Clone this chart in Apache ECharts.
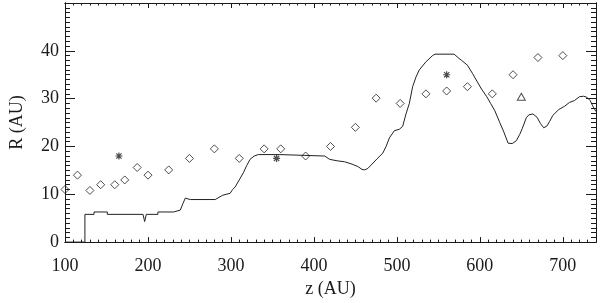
<!DOCTYPE html>
<html>
<head>
<meta charset="utf-8">
<script src="https://cdn.jsdelivr.net/npm/echarts@6/dist/echarts.min.js"></script>
<style>html,body{margin:0;padding:0;background:#fff}#c{width:600px;height:303px}</style>
</head>
<body>
<div id="c"></div>
<script>
// x tick labels / y tick labels
const xTicks = [100, 200, 300, 400, 500, 600, 700];
const yTicks = [0, 10, 20, 30, 40];
// open diamonds (z, R)
const diamonds = [[100,11],[115,14.0],[130,10.8],[143,12.0],[160,12.0],[172,13.0],[187,15.6],[200,14.0],[225,15.1],[250,17.5],[280,19.5],[310,17.5],[340,19.5],[360,19.5],[390,18.0],[420,20.0],[450,24.0],[475,30.1],[504,29.0],[535,31.0],[560,31.6],[585,32.5],[615,31.0],[640,35.0],[670,38.6],[700,39.0]];
// asterisks
const asterisks = [[165,18.0],[355,17.5],[560,35.0]];
// triangle
const triangles = [[650,30.4]];
// profile curve
const profile = [[100,0],[124,0],[124,5.8],[135,5.8],[135,6.3],[151,6.3],[151,5.8],[194,5.8],[196,4.3],[198,5.8],[212,5.8],[212,6.3],[231,6.3],[231,6.7],[239,6.7],[242,8],[245,9.2],[251,8.9],[281,8.9],[283,9.3],[290,9.8],[299,10.2],[302,11],[305,11.5],[310,13],[315,14.5],[319,16],[323,17.3],[328,18],[333,18.3],[359,18.3],[359,18.0],[413,18.0],[419,17.3],[428,17.0],[437,16.8],[446,16.3],[453,15.8],[458,15.2],[461,15.1],[465,15.4],[470,16.3],[476,17.4],[483,18.6],[487,20],[491,21.8],[497,23.3],[503,23.6],[507,24.2],[511,26.8],[515,29],[519,32.5],[523,34.5],[527,36],[535,37.7],[543,39],[546,39.3],[569,39.3],[575,38.4],[578,38],[585,37],[591,35.3],[597,33.5],[602,32],[608,30.5],[613,29],[618,27.5],[624,25],[629,23],[634,20.7],[639,20.6],[644,21.2],[648,22.5],[651,23.7],[656,26],[659,26.6],[664,26.8],[669,26.1],[673,24.8],[677,23.9],[681,24.3],[684,25.2],[688,26.5],[695,27.7],[702,28.4],[708,29.2],[714,29.6],[720,30.4],[725,30.5],[729,30.3],[733,29.6],[736,28.5],[740,27.3]];

const XMIN = 100, XMAX = 740, YMIN = 0, YMAX = 50;
const font = '"Liberation Serif", "DejaVu Serif", serif';
const ink = '#1a1a1a';

function xAxis(pos, interval, len, labels) {
  return {
    type: 'value', position: pos, min: XMIN, max: XMAX, interval: interval,
    axisLine: { show: true, onZero: false, lineStyle: { color: ink, width: 1 } },
    axisTick: { show: true, inside: true, length: len, lineStyle: { color: ink, width: 1 } },
    splitLine: { show: false },
    axisLabel: labels ? {
      show: true, margin: 15, color: ink, fontFamily: font, fontSize: 18,
      formatter: v => (xTicks.indexOf(v) >= 0 ? String(v) : '')
    } : { show: false },
    name: labels ? 'z (AU)' : '', nameLocation: 'middle', nameGap: 37,
    nameTextStyle: { color: ink, fontFamily: font, fontSize: 18 }
  };
}
function yAxis(pos, interval, len, labels) {
  return {
    type: 'value', position: pos, min: YMIN, max: YMAX, interval: interval,
    axisLine: { show: true, onZero: false, lineStyle: { color: ink, width: 1 } },
    axisTick: { show: true, inside: true, length: len, lineStyle: { color: ink, width: 1 } },
    splitLine: { show: false },
    axisLabel: labels ? {
      show: true, margin: 6, color: ink, fontFamily: font, fontSize: 18,
      formatter: v => (yTicks.indexOf(v) >= 0 ? String(v) : '')
    } : { show: false },
    name: labels ? 'R (AU)' : '', nameLocation: 'middle', nameGap: 39, nameRotate: 90,
    nameTextStyle: { color: ink, fontFamily: font, fontSize: 18 }
  };
}

const chart = echarts.init(document.getElementById('c'), null, { renderer: 'canvas' });
chart.setOption({
  animation: false,
  backgroundColor: '#fff',
  grid: { left: 64, right: 4, top: 3, bottom: 55, containLabel: false },
  xAxis: [
    xAxis('bottom', 100, 5, true),
    xAxis('bottom', 10, 2.5, false),
    xAxis('top', 100, 5, false),
    xAxis('top', 10, 2.5, false)
  ],
  yAxis: [
    yAxis('left', 10, 10, true),
    yAxis('left', 1, 5, false),
    yAxis('right', 10, 10, false),
    yAxis('right', 1, 5, false)
  ],
  series: [
    {
      type: 'line', data: profile, xAxisIndex: 0, yAxisIndex: 0,
      showSymbol: false, symbol: 'none', clip: true,
      lineStyle: { color: '#222', width: 1 }
    },
    {
      type: 'scatter', data: diamonds, xAxisIndex: 0, yAxisIndex: 0,
      symbol: 'diamond', symbolSize: [8, 8], clip: true,
      itemStyle: { color: 'rgba(0,0,0,0)', borderColor: '#222', borderWidth: 1 }
    },
    {
      type: 'scatter', data: asterisks, xAxisIndex: 0, yAxisIndex: 0,
      symbol: 'path://M0,-1L0,1M-1,0L1,0M-0.75,-0.75L0.75,0.75M-0.75,0.75L0.75,-0.75',
      symbolSize: 7,
      itemStyle: { color: 'rgba(0,0,0,0)', borderColor: '#222', borderWidth: 1.2 }
    },
    {
      type: 'scatter', data: triangles, xAxisIndex: 0, yAxisIndex: 0,
      symbol: 'triangle', symbolSize: [8, 7],
      itemStyle: { color: 'rgba(0,0,0,0)', borderColor: '#222', borderWidth: 1 }
    }
  ]
});
</script>
</body>
</html>
